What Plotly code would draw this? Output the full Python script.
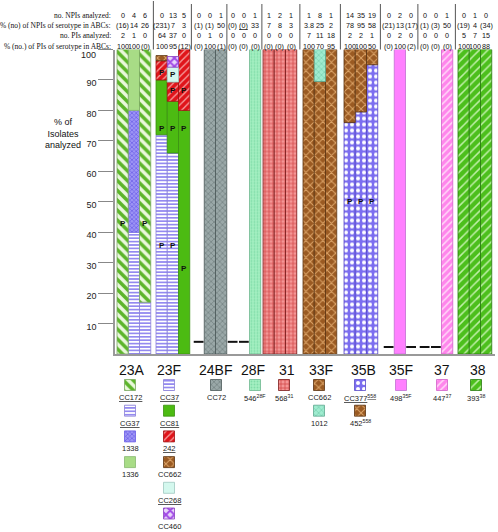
import plotly.graph_objects as go

# ---------------- data ----------------
SEROTYPES = ["23A", "23F", "24BF", "28F", "31", "33F", "35B", "35F", "37", "38"]

ROW_LABELS = ["no. NPIs analyzed:",
              "% (no) of NPIs of serotype in ABCs:",
              "no. PIs analyzed:",
              "% (no.) of PIs of serotype in ABCs:"]
NPIS_ANALYZED = [["0", "4", "6"], ["0", "13", "5"], ["0", "0", "1"], ["0", "0", "1"], ["1", "2", "1"],
                 ["1", "8", "1"], ["14", "35", "19"], ["0", "2", "0"], ["0", "0", "1"], ["0", "1", "0"]]
PCT_NPIS_IN_ABCS = [["(16)", "14", "26"], ["(231)", "7", "3"], ["(1)", "(1)", "50"], ["(0)", "<u>(0)</u>", "33"],
                    ["7", "8", "3"], ["3.8", "25", "2"], ["78", "95", "58"], ["(21)", "13", "(17)"],
                    ["(1)", "(3)", "50"], ["(19)", "4", "(34)"]]
PIS_ANALYZED = [["2", "1", "0"], ["64", "37", "0"], ["0", "1", "0"], ["0", "0", "0"], ["0", "0", "0"],
                ["7", "11", "18"], ["2", "2", "1"], ["0", "2", "0"], ["0", "0", "0"], ["5", "7", "15"]]
PCT_PIS_IN_ABCS = [["100", "100", "(0)"], ["100", "95", "(12)"], ["(0)", "100", "(1)"], ["(0)", "(0)", "(0)"],
                   ["(0)", "(0)", "(0)"], ["100", "70", "95"], ["100", "100", "50"], ["(0)", "100", "(2)"],
                   ["(0)", "(0)", "(0)"], ["100", "100", "88"]]

Y_TICKS = [10, 20, 30, 40, 50, 60, 70, 80, 90, 100]

# % of isolates per clonal complex / ST, three columns per serotype (bottom -> top by ORDER)
PCT_CC37 = {"23A": [0, 40, 17], "23F": [72, 66, 0]}
PCT_1338 = {"23A": [0, 40, 0]}
PCT_1336 = {"23A": [0, 20, 0]}
PCT_CC172 = {"23A": [100, 0, 83]}
PCT_CC81 = {"23F": [18, 17, 80]}
PCT_242 = {"23F": [6.3, 6.3, 20]}
PCT_CC662 = {"23F": [1.7, 0, 0], "33F": [100, 89.5, 100]}
PCT_CC268 = {"23F": [0, 4.9, 0]}
PCT_CC460 = {"23F": [0, 3.5, 0]}
PCT_CC72 = {"24BF": [0, 100, 100]}
PCT_546 = {"28F": [0, 0, 100]}
PCT_568 = {"31": [100, 100, 100]}
PCT_1012 = {"33F": [0, 10.5, 0]}
PCT_CC377 = {"35B": [76, 79.5, 95]}
PCT_452 = {"35B": [24, 20.5, 5]}
PCT_498 = {"35F": [0, 100, 0]}
PCT_447 = {"37": [0, 0, 100]}
PCT_393 = {"38": [100, 100, 100]}

# "P" marks: (serotype, column, % height)
P_MARKS = [("23A", 0, 43), ("23A", 2, 43),
           ("23F", 0, 92.5), ("23F", 0, 74), ("23F", 0, 35.5),
           ("23F", 1, 91.7), ("23F", 1, 86.5), ("23F", 1, 74), ("23F", 1, 35.5),
           ("23F", 2, 86.5), ("23F", 2, 74), ("23F", 2, 28),
           ("35B", 0, 50), ("35B", 1, 50), ("35B", 2, 50)]

LEGEND_LABELS = [["<u>CC172</u>", "<u>CG37</u>", "1338", "1336"],
                 ["<u>CC37</u>", "<u>CC81</u>", "<u>242</u>", "CC662", "<u>CC268</u>", "CC460"],
                 ["CC72"], ["546<sup>28F</sup>"], ["568<sup>31</sup>"], ["CC662", "1012"],
                 ["<u>CC377<sup>558</sup></u>", "452<sup>558</sup>"], ["498<sup>35F</sup>"],
                 ["447<sup>37</sup>"], ["393<sup>38</sup>"]]
LEGEND_KEYS = [["CC172", "CC37", "1338", "1336"],
               ["CC37", "CC81", "242", "CC662", "CC268", "CC460"],
               ["CC72"], ["546"], ["568"], ["CC662", "1012"], ["CC377", "452"], ["498"], ["447"], ["393"]]

PCT = {"CC37": PCT_CC37, "1338": PCT_1338, "1336": PCT_1336, "CC172": PCT_CC172, "CC81": PCT_CC81,
       "242": PCT_242, "CC662": PCT_CC662, "CC268": PCT_CC268, "CC460": PCT_CC460, "CC72": PCT_CC72,
       "546": PCT_546, "568": PCT_568, "1012": PCT_1012, "CC377": PCT_CC377, "452": PCT_452,
       "498": PCT_498, "447": PCT_447, "393": PCT_393}
ORDER = ["CC37", "1338", "1336", "CC172", "CC81", "242", "CC662", "CC268", "CC460", "CC72",
         "546", "568", "1012", "CC377", "452", "498", "447", "393"]

# ---------------- styles / layout ----------------
STYLES = {
    "CC37": dict(bg="#ffffff", shape="-", fg="#948af0", size=3.4, sol=0.5, line="#8a80d8"),
    "1338": dict(bg="#9d94f5", shape="x", fg="#6a5de6", size=3, sol=0.4, line="#6a5de6"),
    "1336": dict(bg="#a8dc86", shape="", line="#88b870"),
    "CC172": dict(bg="#eaf8dc", shape="\\", fg="#5cb52a", size=7, sol=0.5, line="#7aa860"),
    "CC81": dict(bg="#4cbb12", shape="", line="#3a9010"),
    "242": dict(bg="#e0141a", shape="/", fg="#f6a4a4", size=5, sol=0.25, line="#a01010"),
    "CC662": dict(bg="#9a5a22", shape="x", fg="#dca468", size=6, sol=0.3, line="#5a3210"),
    "CC268": dict(bg="#d4f8ee", shape="", line="#a0c8c0"),
    "CC460": dict(bg="#ead6fa", shape="x", fg="#a048e6", size=6, sol=0.55, line="#8a40c0"),
    "CC72": dict(bg="#9aa8a8", shape="x", fg="#6e7c7c", size=4, sol=0.3, line="#4a5858"),
    "546": dict(bg="#a4f0c2", shape=".", fg="#80dca8", size=3, sol=0.3, line="#70b890"),
    "568": dict(bg="#f49696", shape="+", fg="#d24848", size=4, sol=0.35, line="#7a1a1a"),
    "1012": dict(bg="#a0ecd0", shape="x", fg="#6cc8a6", size=4, sol=0.25, line="#60a890"),
    "CC377": dict(bg="#7c6ef0", shape=".", fg="#ffffff", size=6, sol=0.35, line="#5a4cc8"),
    "452": dict(bg="#9a5a22", shape="x", fg="#dca468", size=6, sol=0.3, line="#5a3210"),
    "498": dict(bg="#ff80ff", shape="", line="#c070d0"),
    "447": dict(bg="#ff86ec", shape="/", fg="#ffd8f8", size=5, sol=0.3, line="#d060c8"),
    "393": dict(bg="#4cbf1c", shape="/", fg="#c0f0a8", size=6, sol=0.25, line="#2a7a10"),
}

W, H = 498, 532
M_L, M_R, M_T, M_B = 115, 3, 5, 5
PLOT_TOP_PX, PLOT_BOT_PX = 49.5, 354
GROUP_LEFT_PX = [117, 156, 193, 227, 263, 303, 344, 383, 419, 458]
BAR_W = 11.25
TITLE_X_PX = [132, 169, 215, 253, 287, 321, 363, 401, 442, 478]
LEGEND_X_PX = [130, 169, 216, 255, 284, 319, 360, 401, 442, 476]
DASH_Y = [None, None, 4, 4, None, None, None, 2.3, 2.3, None]
HEADER_ROW_PX = [15, 25.5, 36, 46]
LEG_Y0, LEG_DY, SW = 385, 25.7, 11
TITLE_Y = 370
TOP_TICK_LABEL_PX = 55

paper_h = H - M_T - M_B
plot_w = W - M_L - M_R


def paper_y(px):
    return (H - M_B - px) / paper_h


def col_x(g, j):
    return GROUP_LEFT_PX[g] + (j + 0.5) * BAR_W


def marker_for(key, lw=0.8):
    s = STYLES[key]
    m = dict(color=s["bg"], line=dict(color=s["line"], width=lw))
    if s["shape"]:
        m["pattern"] = dict(shape=s["shape"], fgcolor=s["fg"], bgcolor=s["bg"], size=s["size"],
                            solidity=s["sol"], fillmode="replace")
    return m


fig = go.Figure()

# stacked segments
cum = [[0.0, 0.0, 0.0] for _ in SEROTYPES]
for key in ORDER:
    xs, ys, bs = [], [], []
    for sero, vals in PCT[key].items():
        g = SEROTYPES.index(sero)
        for j, v in enumerate(vals):
            if v:
                xs.append(col_x(g, j))
                ys.append(v)
                bs.append(cum[g][j])
                cum[g][j] += v
    fig.add_trace(go.Bar(x=xs, y=ys, base=bs, width=BAR_W, marker=marker_for(key),
                         hoverinfo="skip", showlegend=False))

# dashes for empty columns
dx, dy = [], []
for g in range(len(SEROTYPES)):
    for j in range(3):
        if cum[g][j] == 0 and DASH_Y[g] is not None:
            dx.append(col_x(g, j))
            dy.append(DASH_Y[g])
fig.add_trace(go.Scatter(x=dx, y=dy, mode="markers", hoverinfo="skip", showlegend=False,
                         marker=dict(symbol="line-ew", size=7, line=dict(color="#111", width=2))))

annotations = []
# P marks
for sero, j, yv in P_MARKS:
    g = SEROTYPES.index(sero)
    annotations.append(dict(x=col_x(g, j), y=yv, xref="x", yref="y", text="<b>P</b>", showarrow=False,
                            xanchor="center", font=dict(size=8, color="#111", family="Liberation Sans")))

# header rows
rows = [NPIS_ANALYZED, PCT_NPIS_IN_ABCS, PIS_ANALYZED, PCT_PIS_IN_ABCS]
for r, (label, vals) in enumerate(zip(ROW_LABELS, rows)):
    yp = paper_y(HEADER_ROW_PX[r])
    annotations.append(dict(x=-0.004, y=yp, xref="paper", yref="paper", text=label, xanchor="right",
                            yanchor="middle", showarrow=False,
                            font=dict(size=7.5, color="#111", family="Liberation Serif")))
    for g in range(len(SEROTYPES)):
        for j in range(3):
            annotations.append(dict(x=col_x(g, j), y=yp, xref="x", yref="paper", text=vals[g][j],
                                    xanchor="center", yanchor="middle", showarrow=False,
                                    font=dict(size=7.2, color="#111", family="Liberation Sans")))

# y axis title
annotations.append(dict(x=(63 - M_L) / plot_w, y=paper_y(133), xref="paper", yref="paper",
                        text="% of<br>Isolates<br>analyzed", showarrow=False, align="center",
                        xanchor="center", yanchor="middle",
                        font=dict(size=9, color="#111", family="Liberation Sans")))

# top tick label sits a little lower than its tick in the reference
tick_text = [str(t) for t in Y_TICKS]
annotations.append(dict(x=(98 - M_L) / plot_w, y=paper_y(TOP_TICK_LABEL_PX), xref="paper", yref="paper",
                        text=tick_text[-1], showarrow=False, xanchor="right", yanchor="middle",
                        font=dict(size=9, color="#222", family="Liberation Sans")))
tick_text[-1] = ""

# header separators
shapes = []
for g in range(1, len(SEROTYPES)):
    xm = (GROUP_LEFT_PX[g - 1] + 3 * BAR_W + GROUP_LEFT_PX[g]) / 2
    shapes.append(dict(type="line", xref="x", yref="paper", x0=xm, x1=xm,
                       y0=paper_y(PLOT_TOP_PX), y1=paper_y(1 if g == 1 else 4),
                       line=dict(color="#555", width=1)))

# legend: titles, swatches, labels
for g, sero in enumerate(SEROTYPES):
    annotations.append(dict(x=TITLE_X_PX[g], y=TITLE_Y, xref="x", yref="y2", text=sero, showarrow=False,
                            xanchor="center", yanchor="middle",
                            font=dict(size=14, color="#111", family="Liberation Sans")))
    for r, (lab, key) in enumerate(zip(LEGEND_LABELS[g], LEGEND_KEYS[g])):
        cy = LEG_Y0 + r * LEG_DY
        fig.add_trace(go.Bar(x=[LEGEND_X_PX[g]], y=[SW], base=[cy - SW / 2], width=SW,
                             marker=marker_for(key, 0.8), xaxis="x", yaxis="y2",
                             hoverinfo="skip", showlegend=False))
        annotations.append(dict(x=LEGEND_X_PX[g], y=cy + 12.5, xref="x", yref="y2", text=lab,
                                showarrow=False, xanchor="center", yanchor="middle",
                                font=dict(size=7.5, color="#222", family="Liberation Sans")))

fig.update_layout(
    template="none",
    width=W, height=H, margin=dict(l=M_L, r=M_R, t=M_T, b=M_B, autoexpand=False),
    plot_bgcolor="white", paper_bgcolor="white", barmode="overlay", showlegend=False,
    annotations=annotations, shapes=shapes,
    xaxis=dict(range=[M_L, W - M_R], showline=True, linecolor="#999", linewidth=1.5, automargin=False,
               showticklabels=False, ticks="", showgrid=False, zeroline=False, anchor="y"),
    yaxis=dict(domain=[paper_y(PLOT_BOT_PX), paper_y(PLOT_TOP_PX)], range=[0, 100], automargin=False,
               tickvals=Y_TICKS, ticktext=tick_text, ticks="outside", ticklen=15, tickcolor="#888",
               tickwidth=1, showline=True, linecolor="#999", linewidth=1.5, showgrid=False,
               zeroline=False, ticklabelshift=3,
               tickfont=dict(size=9, color="#222", family="Liberation Sans")),
    yaxis2=dict(domain=[0, paper_y(362)], range=[H - M_B, 362], visible=False, anchor="x",
                automargin=False),
)

fig.write_html("out.html", config={"displayModeBar": False},
               post_script="document.body.style.margin='0';document.body.style.overflow='hidden';")
